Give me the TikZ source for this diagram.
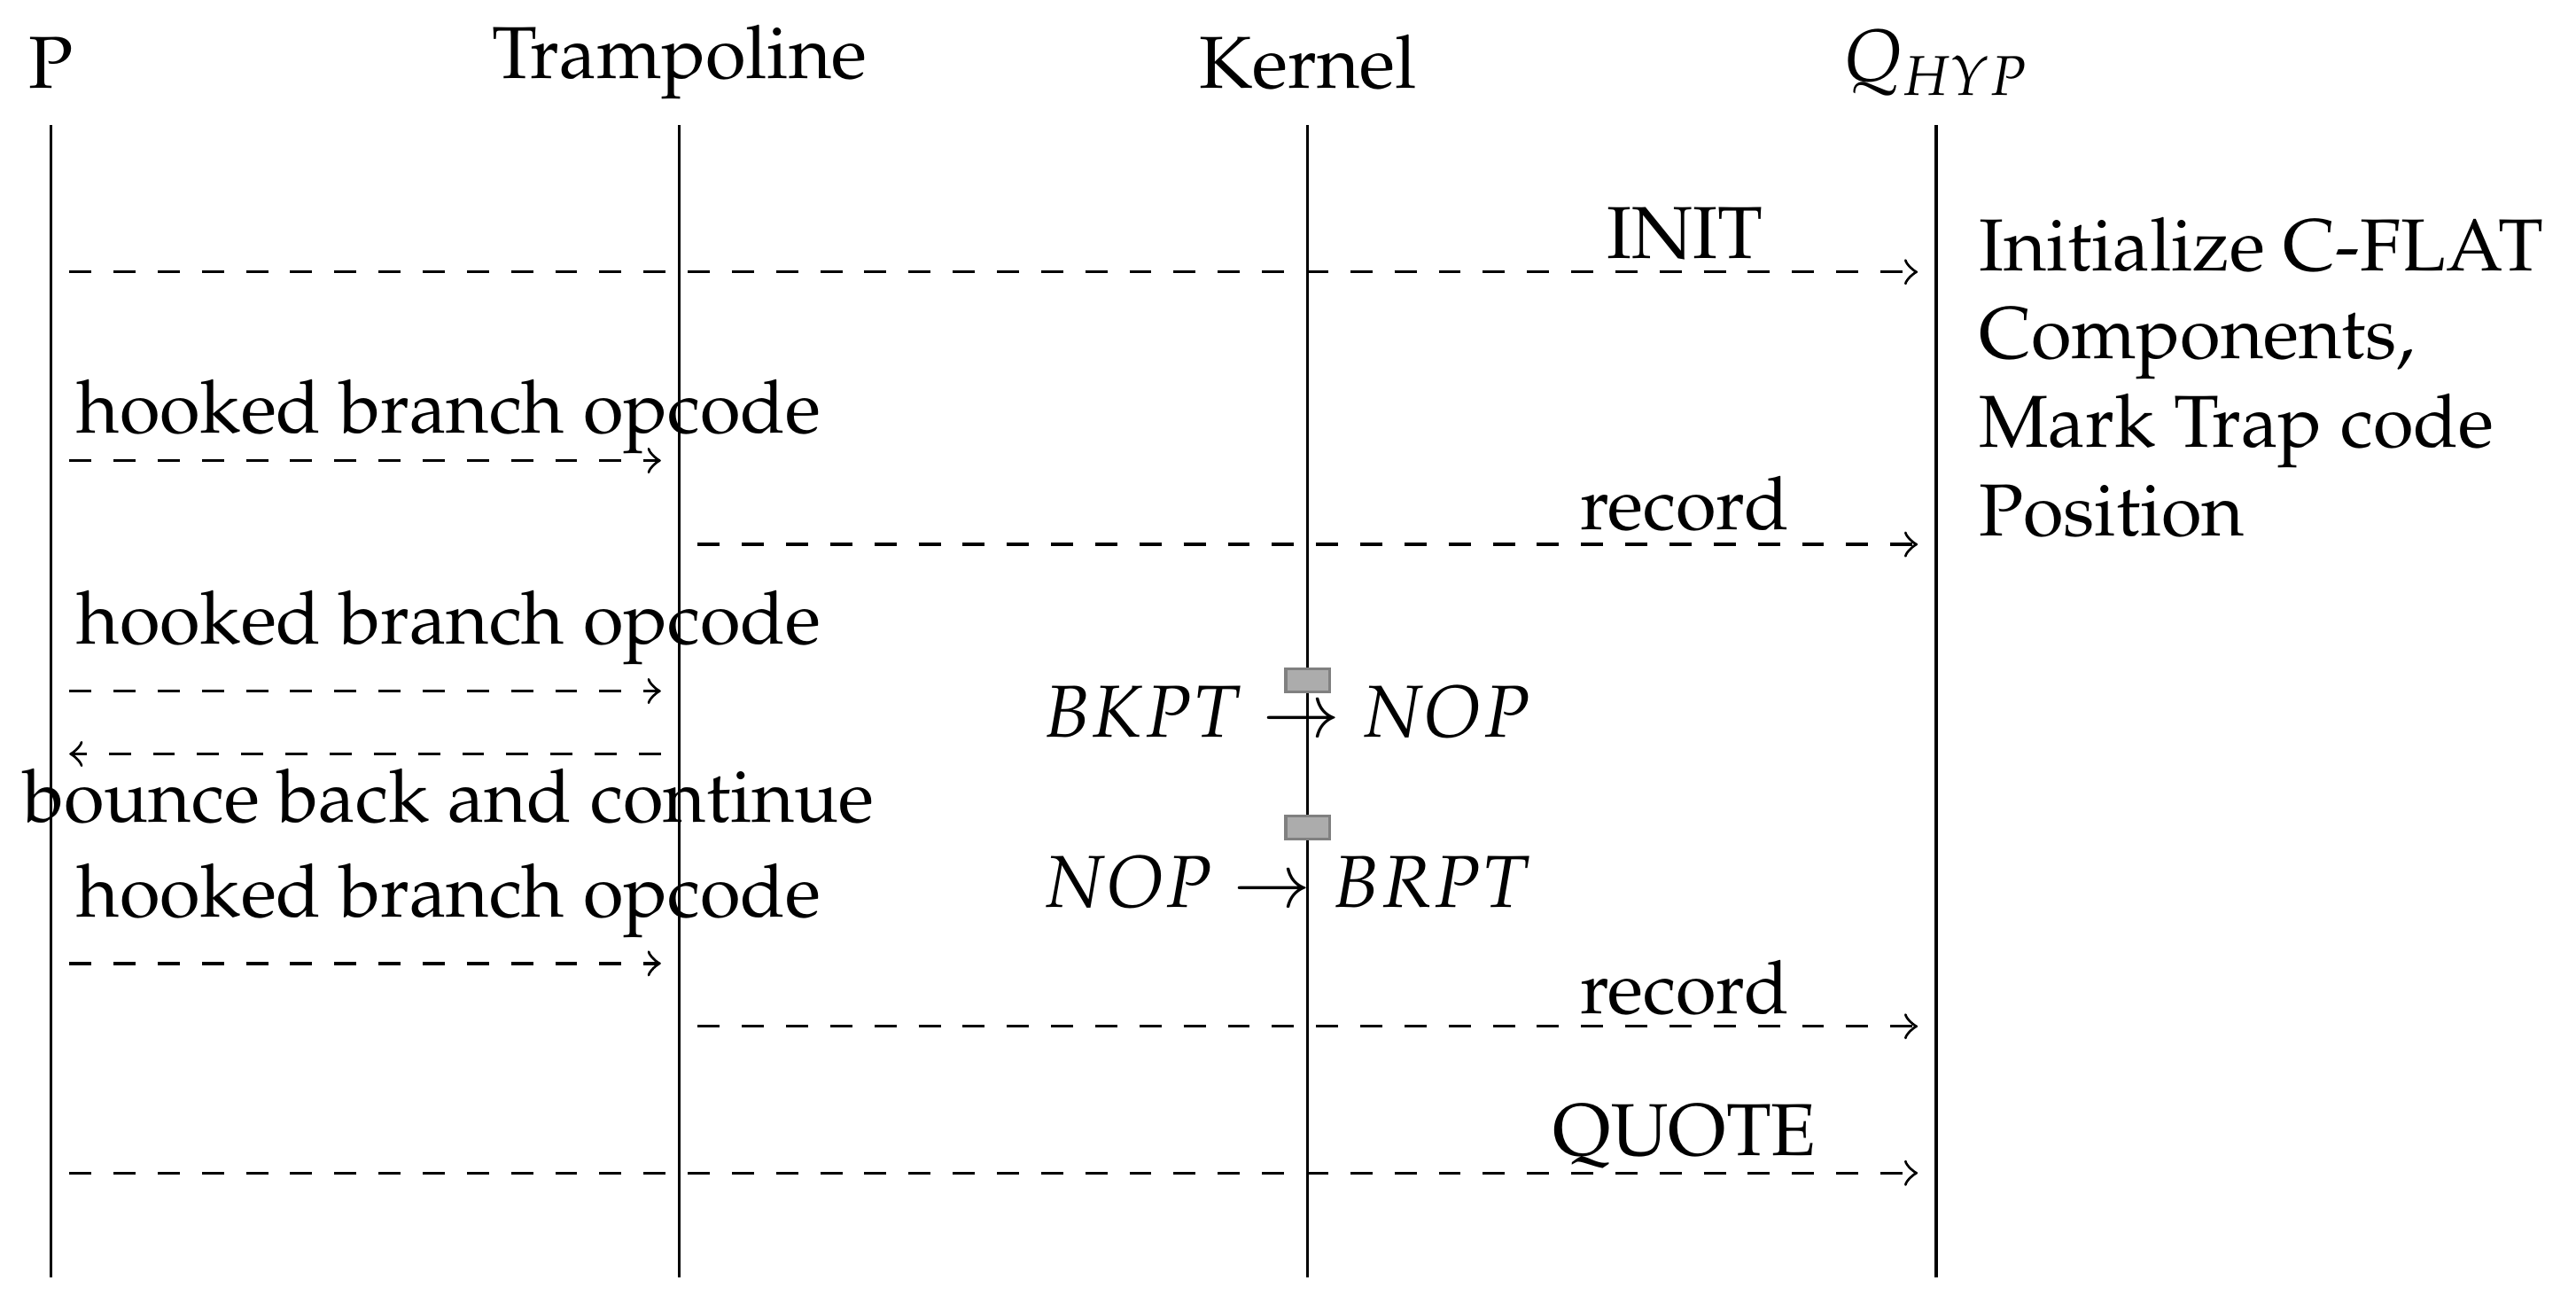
\documentclass[tikz,border=0pt]{standalone}
\usepackage[T1]{fontenc}
\usepackage{mathpazo}
\usepackage{amsmath}

\begin{document}
\begin{tikzpicture}[msg/.style={draw,dashed,->,shorten >=2.5pt,shorten <=2.5pt},
  brk/.style={draw=gray,fill=gray!65,minimum width=0.21cm,minimum height=0.11cm,inner sep=0pt},
  lbl/.style={anchor=base}]
\useasboundingbox (-0.243,0.298) rectangle (12.055,-5.922);

\node (P) at (0,0) {P};
\node (T) at (3,0) {Trampoline};
\node (K) at (6,0) {Kernel};
\node (Q) at (9,0) {$Q_{HYP}$};

\coordinate (top) at (0,-0.3);
\coordinate (bot) at (0,-5.8);
\foreach \n in {P,T,K,Q}
  \path[draw] (\n |- top) -- (\n |- bot);

\coordinate (r1) at (0,-1.0);
\coordinate (r2) at (0,-1.9);
\coordinate (r3) at (0,-2.3);
\coordinate (r4) at (0,-3.0);
\coordinate (r5) at (0,-3.3);
\coordinate (r6) at (0,-4.3);
\coordinate (r7) at (0,-4.6);
\coordinate (r8) at (0,-5.3);

\path[msg] (P |- r1) -- (Q |- r1);
\path[msg] (P |- r2) -- (T |- r2);
\path[msg] (T |- r3) -- (Q |- r3);
\path[msg] (P |- r4) -- (T |- r4);
\path[msg] (T |- r5) -- (P |- r5);
\path[msg] (P |- r6) -- (T |- r6);
\path[msg] (T |- r7) -- (Q |- r7);
\path[msg] (P |- r8) -- (Q |- r8);

\node[lbl] (init) at (7.8,-0.935) {INIT};
\node[anchor=south west] (hook1) at (0,-1.99) {hooked branch opcode};
\node[lbl] (rec1) at (7.8,-2.23) {record};
\node[anchor=south west] (hook2) at (P |- r4) {hooked branch opcode};
\node[lbl] (bounce) at (1.9,-3.624) {bounce back and continue};
\node[anchor=south west] (hook3) at (P |- r6) {hooked branch opcode};
\node[lbl] (rec2) at (7.8,-4.54) {record};
\node[lbl] (quote) at (7.8,-5.216) {QUOTE};

\node[brk] (b1) at (6,-2.95) {};
\node[brk] (b2) at (6,-3.65) {};
\node[lbl] (swap1) at (5.9,-3.22) {$BKPT \rightarrow NOP$};
\node[lbl] (swap2) at (5.9,-4.03) {$NOP \rightarrow BRPT$};

\node[anchor=north west,align=left] (note) at (9.08,-0.615)
  {Initialize C-FLAT\\Components,\\Mark Trap code\\Position};
\end{tikzpicture}
\end{document}
